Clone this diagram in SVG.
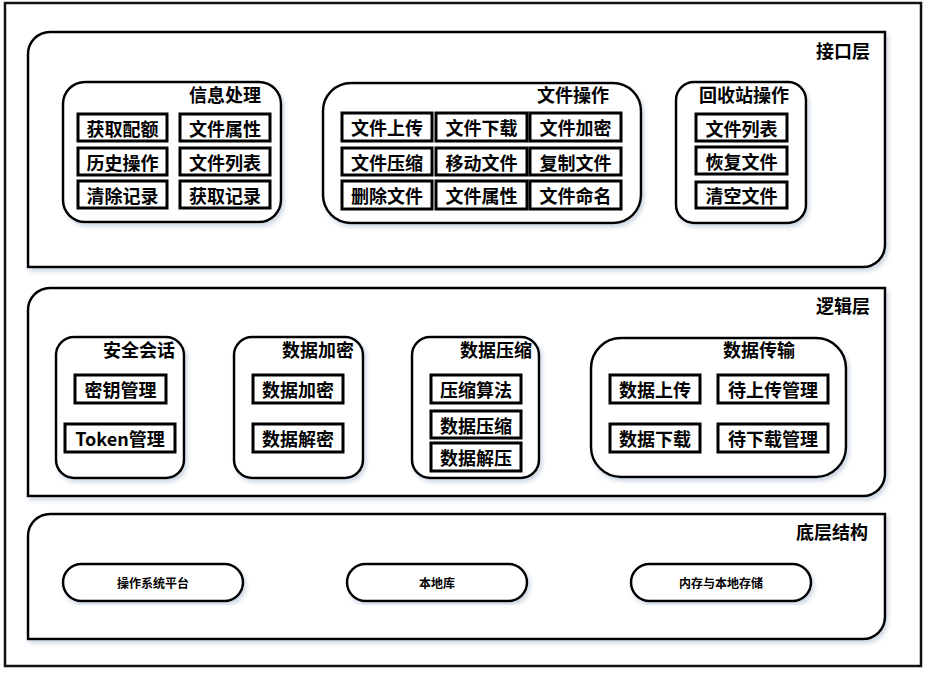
<svg xmlns="http://www.w3.org/2000/svg" width="929" height="675" viewBox="0 0 929 675">
<defs>
<filter id="sh" x="-5%" y="-5%" width="110%" height="115%">
<feDropShadow dx="2" dy="3" stdDeviation="2" flood-color="#8fa6c0" flood-opacity="0.45"/>
</filter>
<style>
text{font-family:"Noto Sans CJK SC","Microsoft YaHei",sans-serif;font-weight:bold;fill:#000}
.t{font-size:18px}
.c{font-size:18px;text-anchor:middle;dominant-baseline:central}
.p{font-size:12px;text-anchor:middle;dominant-baseline:central}
.layer{fill:#fff;stroke:#000;stroke-width:2.5;filter:url(#sh)}
.grp{fill:#fff;stroke:#000;stroke-width:2.5;filter:url(#sh)}
.item{fill:#fff;stroke:#000;stroke-width:3}
.pill{fill:#fff;stroke:#000;stroke-width:2.5;filter:url(#sh)}
</style>
</defs>
<rect x="0" y="0" width="929" height="675" fill="#fff"/>
<rect x="5" y="3" width="916" height="663" fill="#fff" stroke="#111" stroke-width="2.5"/>

<g id="layer-interface">
<path class="layer" d="M50,32 H885 V245 A22,22 0 0 1 863,267 H28 V54 A22,22 0 0 1 50,32 Z"/>
<text class="t" x="816" y="58">接口层</text>
</g>
<g id="layer-logic">
<path class="layer" d="M50,288 H885 V474 A22,22 0 0 1 863,496 H28 V310 A22,22 0 0 1 50,288 Z"/>
<text class="t" x="816" y="313">逻辑层</text>
</g>
<g id="layer-base">
<path class="layer" d="M50,514 H885 V617 A22,22 0 0 1 863,639 H28 V536 A22,22 0 0 1 50,514 Z"/>
<text class="t" x="796" y="539">底层结构</text>
</g>

<g id="grp-info">
<rect class="grp" x="63" y="82" width="218" height="140" rx="22"/>
<text class="t" x="189" y="102">信息处理</text>
<rect class="item" x="78" y="114" width="89" height="27"/><text class="c" x="122.5" y="127.5">获取配额</text>
<rect class="item" x="180" y="114" width="90" height="27"/><text class="c" x="225" y="127.5">文件属性</text>
<rect class="item" x="78" y="148" width="89" height="27"/><text class="c" x="122.5" y="161.5">历史操作</text>
<rect class="item" x="180" y="148" width="90" height="27"/><text class="c" x="225" y="161.5">文件列表</text>
<rect class="item" x="78" y="181" width="89" height="27"/><text class="c" x="122.5" y="194.5">清除记录</text>
<rect class="item" x="180" y="181" width="90" height="27"/><text class="c" x="225" y="194.5">获取记录</text>
</g>

<g id="grp-fileops">
<rect class="grp" x="323" y="83" width="318" height="140" rx="28"/>
<text class="t" x="537" y="102">文件操作</text>
<rect class="item" x="342" y="113" width="90" height="28"/><text class="c" x="387" y="127">文件上传</text>
<rect class="item" x="436" y="113" width="91" height="28"/><text class="c" x="481.5" y="127">文件下载</text>
<rect class="item" x="530" y="113" width="91" height="28"/><text class="c" x="575.5" y="127">文件加密</text>
<rect class="item" x="342" y="148" width="90" height="27"/><text class="c" x="387" y="161.5">文件压缩</text>
<rect class="item" x="436" y="148" width="91" height="27"/><text class="c" x="481.5" y="161.5">移动文件</text>
<rect class="item" x="530" y="148" width="91" height="27"/><text class="c" x="575.5" y="161.5">复制文件</text>
<rect class="item" x="342" y="181" width="90" height="28"/><text class="c" x="387" y="195">删除文件</text>
<rect class="item" x="436" y="181" width="91" height="28"/><text class="c" x="481.5" y="195">文件属性</text>
<rect class="item" x="530" y="181" width="91" height="28"/><text class="c" x="575.5" y="195">文件命名</text>
</g>

<g id="grp-recycle">
<rect class="grp" x="676" y="82" width="130" height="141" rx="18"/>
<text class="t" x="699" y="102">回收站操作</text>
<rect class="item" x="696" y="114" width="91" height="27"/><text class="c" x="741.5" y="127.5">文件列表</text>
<rect class="item" x="696" y="147" width="91" height="27"/><text class="c" x="741.5" y="160.5">恢复文件</text>
<rect class="item" x="696" y="182" width="91" height="26"/><text class="c" x="741.5" y="195">清空文件</text>
</g>

<g id="grp-security">
<rect class="grp" x="56" y="337" width="128" height="141" rx="18"/>
<text class="t" x="103" y="357">安全会话</text>
<rect class="item" x="75" y="375" width="91" height="28"/><text class="c" x="120.5" y="389">密钥管理</text>
<rect class="item" x="65" y="424" width="110" height="28"/><text class="c" x="120" y="438">Token管理</text>
</g>

<g id="grp-encrypt">
<rect class="grp" x="234" y="337" width="129" height="141" rx="18"/>
<text class="t" x="282" y="357">数据加密</text>
<rect class="item" x="253" y="375" width="90" height="28"/><text class="c" x="298" y="389">数据加密</text>
<rect class="item" x="253" y="424" width="90" height="28"/><text class="c" x="298" y="438">数据解密</text>
</g>

<g id="grp-compress">
<rect class="grp" x="412" y="337" width="127" height="141" rx="18"/>
<text class="t" x="460" y="357">数据压缩</text>
<rect class="item" x="431" y="375" width="90" height="28"/><text class="c" x="476" y="389">压缩算法</text>
<rect class="item" x="431" y="411" width="90" height="27"/><text class="c" x="476" y="424.5">数据压缩</text>
<rect class="item" x="431" y="443" width="90" height="28"/><text class="c" x="476" y="457">数据解压</text>
</g>

<g id="grp-transfer">
<rect class="grp" x="591" y="338" width="255" height="139" rx="30"/>
<text class="t" x="723" y="357">数据传输</text>
<rect class="item" x="610" y="375" width="90" height="28"/><text class="c" x="655" y="389">数据上传</text>
<rect class="item" x="718" y="375" width="110" height="28"/><text class="c" x="773" y="389">待上传管理</text>
<rect class="item" x="610" y="424" width="90" height="28"/><text class="c" x="655" y="438">数据下载</text>
<rect class="item" x="718" y="424" width="110" height="28"/><text class="c" x="773" y="438">待下载管理</text>
</g>

<g id="node-os">
<rect class="pill" x="63" y="564" width="180" height="37" rx="18.5"/>
<text class="p" x="153" y="582.5">操作系统平台</text>
</g>
<g id="node-localdb">
<rect class="pill" x="347" y="564" width="180" height="37" rx="18.5"/>
<text class="p" x="437" y="582.5">本地库</text>
</g>
<g id="node-storage">
<rect class="pill" x="631" y="564" width="180" height="37" rx="18.5"/>
<text class="p" x="721" y="582.5">内存与本地存储</text>
</g>

<g id="connectors"></g>
</svg>
